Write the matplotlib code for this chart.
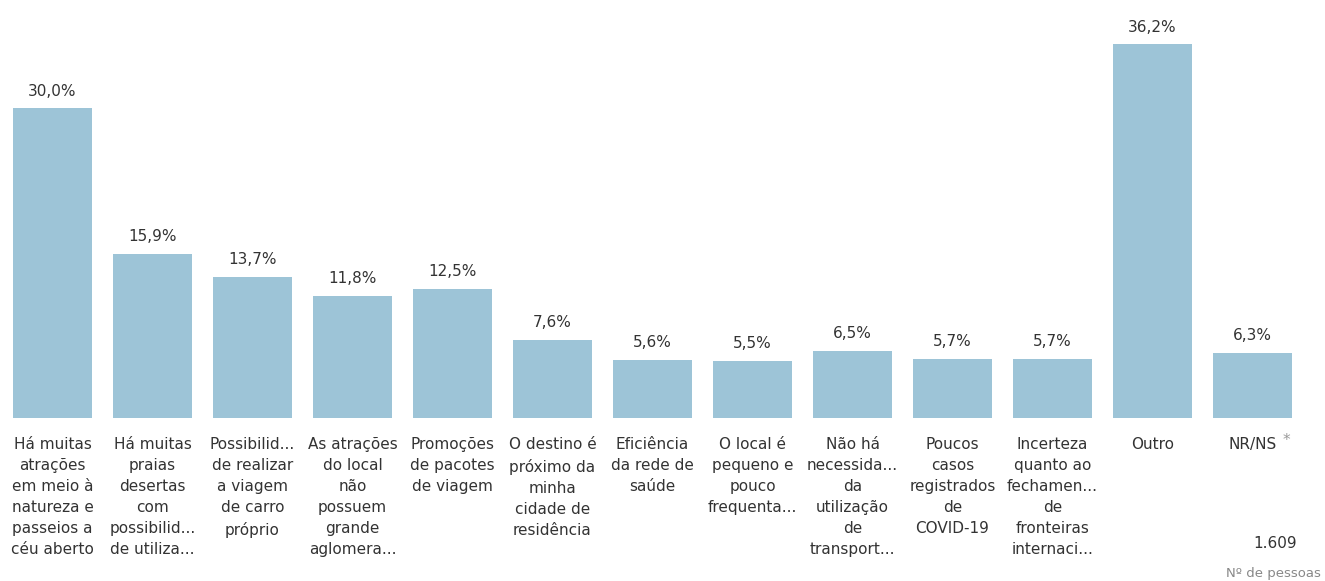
import matplotlib.pyplot as plt
from matplotlib import font_manager

# dados
categorias = [
    "Há muitas\natrações\nem meio à\nnatureza e\npasseios a\ncéu aberto",
    "Há muitas\npraias\ndesertas\ncom\npossibilid...\nde utiliza...",
    "Possibilid...\nde realizar\na viagem\nde carro\npróprio",
    "As atrações\ndo local\nnão\npossuem\ngrande\naglomera...",
    "Promoções\nde pacotes\nde viagem",
    "O destino é\npróximo da\nminha\ncidade de\nresidência",
    "Eficiência\nda rede de\nsaúde",
    "O local é\npequeno e\npouco\nfrequenta...",
    "Não há\nnecessida...\nda\nutilização\nde\ntransport...",
    "Poucos\ncasos\nregistrados\nde\nCOVID-19",
    "Incerteza\nquanto ao\nfechamen...\nde\nfronteiras\ninternaci...",
    "Outro",
    "NR/NS",
]
valores = [30.0, 15.9, 13.7, 11.8, 12.5, 7.6, 5.6, 5.5, 6.5, 5.7, 5.7, 36.2, 6.3]
total = "1.609"

nomes = {f.name for f in font_manager.fontManager.ttflist}
fonte = "Liberation Sans Narrow" if "Liberation Sans Narrow" in nomes else "DejaVu Sans"
plt.rcParams['font.family'] = [fonte, 'DejaVu Sans']

cor_barra = "#9dc4d7"
cor_texto = "#333333"

fig = plt.figure(figsize=(13.25, 5.81), dpi=100)
ax = fig.add_axes([0, 163 / 581, 1, 413 / 581])
x = list(range(len(valores)))
ax.bar(x, valores, width=0.79, color=cor_barra)
ax.set_xlim(-0.525, 12.725)
ax.set_ylim(0, 40)
ax.axis('off')

for i, v in enumerate(valores):
    ax.annotate(f"{v:.1f}%".replace('.', ','), (i, v), xytext=(0, 7),
                textcoords='offset points', ha='center', va='bottom',
                fontsize=11, color=cor_texto)

for i, c in enumerate(categorias):
    ax.annotate(c, (i, 0), xytext=(0, -14), textcoords='offset points',
                ha='center', va='top', fontsize=11, color=cor_texto,
                linespacing=1.5, annotation_clip=False)

fig.text(1283 / 1325, 1 - 440 / 581, "*", ha='left', va='center',
         fontsize=11, color='#999999')
fig.text(1275 / 1325, 1 - 543 / 581, total, ha='center', va='center',
         fontsize=11, color=cor_texto)
fig.text(1321 / 1325, 1 - 573 / 581, "Nº de pessoas", ha='right', va='center',
         fontsize=9.5, color='#888888')

fig.savefig("out.png", dpi=100)
